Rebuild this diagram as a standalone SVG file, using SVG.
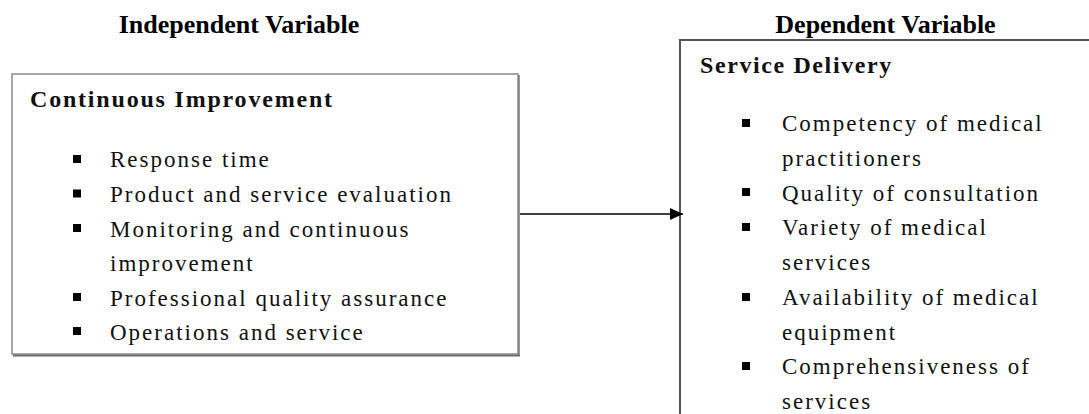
<svg xmlns="http://www.w3.org/2000/svg" width="1089" height="414" viewBox="0 0 1089 414">
<defs>
<marker id="arr" markerWidth="14" markerHeight="12" refX="13" refY="6" orient="auto" markerUnits="userSpaceOnUse">
<path d="M0,0 L13,6 L0,12 Z" fill="#000"/>
</marker>
</defs>
<rect width="1089" height="414" fill="#fff"/>
<g font-family="Liberation Serif, serif" font-weight="bold" font-size="26" fill="#000" text-anchor="middle">
<text x="239" y="33">Independent Variable</text>
<text x="885.5" y="33">Dependent Variable</text>
</g>
<g id="continuous-improvement">
<rect x="12" y="74" width="506" height="280" fill="#fff" stroke="#8a8a8a" stroke-width="1.5"/>
<line x1="519" y1="75" x2="519" y2="356" stroke="#777" stroke-width="1.5"/>
<line x1="13" y1="355.5" x2="520" y2="355.5" stroke="#6a6a6a" stroke-width="2"/>
<text font-family="Liberation Serif, serif" font-weight="bold" font-size="24" letter-spacing="1.8" fill="#111" x="30" y="107">Continuous Improvement</text>
<g fill="#000">
<rect x="73" y="155" width="8" height="8"/>
<rect x="73" y="189.5" width="8" height="8"/>
<rect x="73" y="224" width="8" height="8"/>
<rect x="73" y="293" width="8" height="8"/>
<rect x="73" y="327" width="8" height="8"/>
</g>
<g font-family="Liberation Serif, serif" font-size="23" letter-spacing="2" fill="#111">
<text x="110" y="167">Response time</text>
<text x="110" y="202">Product and service evaluation</text>
<text x="110" y="236.5">Monitoring and continuous</text>
<text x="110" y="271">improvement</text>
<text x="110" y="305.5">Professional quality assurance</text>
<text x="110" y="339.5">Operations and service</text>
</g>
</g>
<g id="service-delivery">
<path d="M680,420 L680,40 L1095,40" fill="#fff" stroke="#555" stroke-width="2"/>
<text font-family="Liberation Serif, serif" font-weight="bold" font-size="24" letter-spacing="1.6" fill="#111" x="700" y="73">Service Delivery</text>
<g fill="#000">
<rect x="742" y="119" width="8" height="8"/>
<rect x="742" y="188" width="8" height="8"/>
<rect x="742" y="223" width="8" height="8"/>
<rect x="742" y="293" width="8" height="8"/>
<rect x="742" y="362" width="8" height="8"/>
</g>
<g font-family="Liberation Serif, serif" font-size="23" letter-spacing="2" fill="#111">
<text x="782" y="131">Competency of medical</text>
<text x="782" y="166">practitioners</text>
<text x="782" y="200.5">Quality of consultation</text>
<text x="782" y="235">Variety of medical</text>
<text x="782" y="270">services</text>
<text x="782" y="305">Availability of medical</text>
<text x="782" y="339.5">equipment</text>
<text x="782" y="374">Comprehensiveness of</text>
<text x="782" y="408.5">services</text>
</g>
</g>
<g id="connectors">
<line x1="520" y1="214" x2="683" y2="214" stroke="#000" stroke-width="1.5" marker-end="url(#arr)"/>
</g>
</svg>
